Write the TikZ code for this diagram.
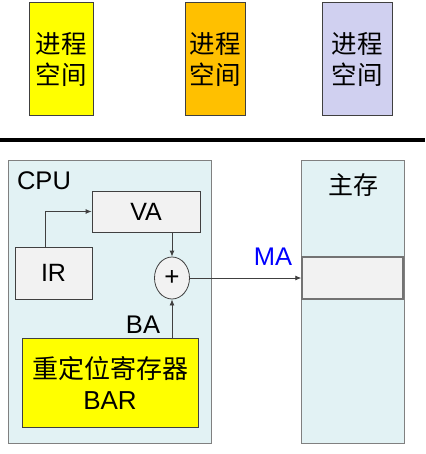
\documentclass[tikz,border=0pt]{standalone}
\usepackage{fontspec}
\setmainfont{Liberation Sans}
\newfontfamily\cjk{Noto Sans CJK SC}
\usetikzlibrary{arrows.meta,shapes.geometric}
\definecolor{boxline}{RGB}{64, 64, 64}
\definecolor{cpufill}{RGB}{226, 242, 244}
\definecolor{regfill}{RGB}{242, 242, 242}
\definecolor{procyellow}{RGB}{255, 255, 0}
\definecolor{procorange}{RGB}{255, 192, 0}
\definecolor{proclilac}{RGB}{208, 208, 240}
\definecolor{maddr}{RGB}{0, 0, 255}

\tikzset{
  procbox/.style={draw=boxline, line width=1pt, inner sep=0pt, minimum width=#1, minimum height=113pt, align=center, font=\cjk\fontsize{25.5}{31}\selectfont},
  unitbox/.style={draw=gray, line width=1pt, fill=cpufill, inner sep=0pt},
  regbox/.style={draw=boxline, line width=0.8pt, fill=regfill, inner sep=0pt, font=\fontsize{25}{28}\selectfont},
  link/.style={draw=boxline, line width=0.8pt, -{Latex[length=6pt,width=5pt]}},
  lbl/.style={inner sep=0pt, font=\fontsize{25.5}{28}\selectfont}
}

\begin{document}
\begin{tikzpicture}[x=1pt, y=-1pt]
\useasboundingbox (0,0) rectangle (425,454);
% process spaces
\node[procbox=64pt, fill=procyellow] (proca) at (61,59.5) {进程\\空间};
\node[procbox=60pt, fill=procorange] (procb) at (215,59.5) {进程\\空间};
\node[procbox=70pt, fill=proclilac] (procc) at (357,59.5) {进程\\空间};
\coordinate (sepl) at (0,140);
\coordinate (sepr) at (425,140);
\draw[line width=3.5pt] (sepl) -- (sepr);

% CPU and main memory
\node[unitbox, minimum width=203pt, minimum height=282pt] (cpu) at (109.5,302) {};
\node[unitbox, minimum width=103pt, minimum height=282pt] (mem) at (352.5,302) {};
\node[draw=gray!90!black, line width=1.5pt, fill=regfill, inner sep=0pt, minimum width=101pt, minimum height=42pt] (cell) at (352.5,278) {};
\node[lbl] (cpulbl) at (44,181) {CPU};
\node[lbl, font=\cjk\fontsize{25}{28}\selectfont] (memlbl) at (353,185) {主存};

\node[regbox, minimum width=108pt, minimum height=41pt] (va) at (146,211.5) {VA};
\node[regbox, minimum width=77pt, minimum height=52pt] (ir) at (53.5,273) {IR};
\node[ellipse, draw=boxline, line width=0.8pt, fill=regfill, inner sep=0pt, minimum width=35pt, minimum height=42pt, font=\fontsize{26}{28}\selectfont] (plus) at (172,278) {+};
\node[draw=boxline, line width=1pt, fill=procyellow, inner sep=0pt, minimum width=176pt, minimum height=89pt, align=center, font=\fontsize{26}{31}\selectfont] (bar) at (110,382.5) {{\cjk 重定位寄存器}\\BAR};
\node[lbl] (ba) at (143,325) {BA};
\node[lbl, text=maddr] (ma) at (273,257) {MA};

% connectors
\draw[link] ([xshift=-8.5pt]ir.north) |- (va.west);
\draw[link] (plus.north |- va.south) -- (plus.north);
\draw[link] (plus.south |- bar.north) -- (plus.south);
\draw[link] (plus.east) -- (cell.west);
\end{tikzpicture}
\end{document}
